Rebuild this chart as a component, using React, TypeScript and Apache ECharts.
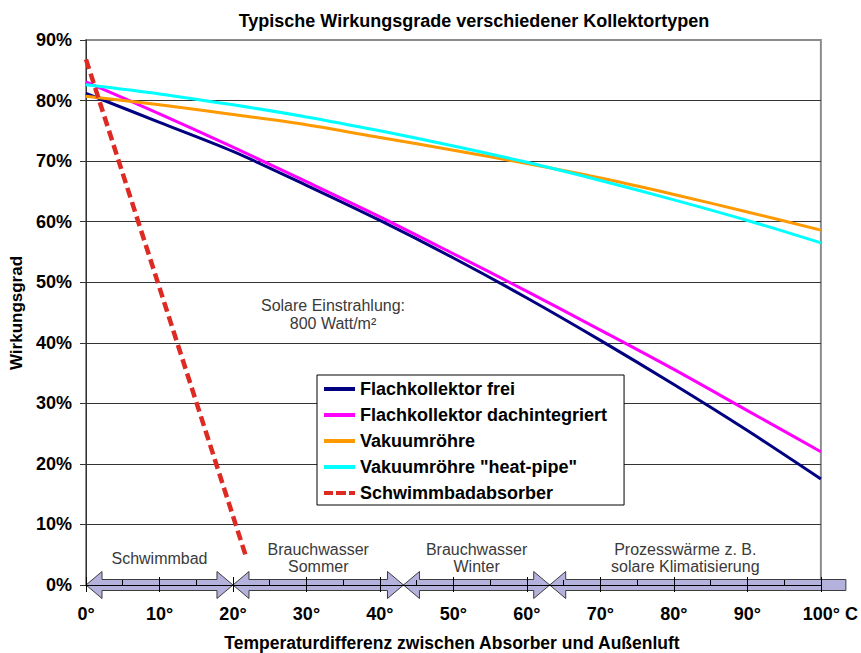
import React, { useEffect, useRef } from 'react';
import * as echarts from 'echarts';

const FONT = '"Liberation Sans", Arial, Helvetica, sans-serif';

// Temperature differences (°) at which the curves were read
const temperatures = [0, 10, 20, 30, 40, 50, 60, 70, 80, 90, 100];
// Efficiency values in %
const flachkollektorFrei = [81.2, 76.4, 71.6, 66.0, 60.2, 54.0, 47.4, 40.4, 33.1, 25.5, 17.5];
const flachkollektorDach = [83.1, 77.8, 72.3, 66.6, 60.8, 54.7, 48.5, 42.1, 35.6, 28.8, 22.0];
const vakuumroehre = [80.7, 79.3, 77.7, 76.0, 73.9, 71.8, 69.6, 67.2, 64.5, 61.6, 58.6];
const vakuumHeatPipe = [82.6, 81.1, 79.3, 77.3, 75.0, 72.5, 69.8, 66.8, 63.6, 60.2, 56.5];
const schwimmbadTemps = [0, 21.8];
const schwimmbadabsorber = [86.8, 4.6];

const seriesNames = [
  'Flachkollektor frei',
  'Flachkollektor dachintegriert',
  'Vakuumröhre',
  'Vakuumröhre "heat-pipe"',
  'Schwimmbadabsorber',
];
const seriesColors = ['#000080', '#ff00ff', '#ff9900', '#00ffff', '#dd2a22'];

// Application ranges (arrows along the x-axis)
const rangeStarts = [0, 20, 43.2, 63.1];
const rangeEnds = [20, 43.2, 63.1, 103.4];
const rangeLeftHead = [1, 1, 1, 1];
const rangeRightHead = [1, 1, 1, 0];
const rangeLabels = [
  'Schwimmbad',
  'Brauchwasser\nSommer',
  'Brauchwasser\nWinter',
  'Prozesswärme z. B.\nsolare Klimatisierung',
];

const xTicks = { min: 0, max: 100, interval: 10 };
const yTicks = { min: 0, max: 90, interval: 10 };

const SOLID_ICON = 'path://M0,0H31V4H0Z';
const DASH_ICON = 'path://M0,0H9V4H0Z M12,0H22V4H12Z M25,0H31V4H25Z';

export default function App() {
  const ref = useRef<HTMLDivElement>(null);

  useEffect(() => {
    const chart = echarts.init(ref.current as HTMLDivElement, null, { renderer: 'svg' });
    const pairs = (xs: number[], ys: number[]) => xs.map((x, i) => [x, ys[i]]);

    const lineSeries = (name: string, ys: number[], color: string) => ({
      name,
      type: 'line',
      data: pairs(temperatures, ys),
      showSymbol: false,
      symbol: 'none',
      smooth: 0.3,
      z: 3,
      lineStyle: { color, width: 3 },
      itemStyle: { color },
    });

    const rangeData = rangeStarts.map((s, i) => [s, rangeEnds[i], rangeLeftHead[i], rangeRightHead[i]]);

    chart.setOption({
      animation: false,
      backgroundColor: '#ffffff',
      textStyle: { fontFamily: FONT },
      grid: {
        left: 86,
        right: 37,
        top: 40,
        bottom: 68,
        show: true,
        borderColor: '#8c8c8c',
        borderWidth: 2,
        backgroundColor: 'transparent',
      },
      legend: {
        orient: 'vertical',
        left: 317,
        top: 375,
        data: seriesNames.map((name, i) => ({
          name,
          icon: i === 4 ? DASH_ICON : SOLID_ICON,
          itemStyle: { color: seriesColors[i] },
        })),
        selectedMode: false,
        backgroundColor: '#ffffff',
        borderColor: '#000000',
        borderWidth: 1,
        padding: [5, 17, 3, 7],
        itemGap: 8,
        itemWidth: 31,
        itemHeight: 4,
        z: 10,
        textStyle: { fontSize: 18, fontWeight: 'bold', color: '#000', fontFamily: FONT },
      },
      xAxis: [
        {
          type: 'value',
          ...xTicks,
          position: 'bottom',
          z: 5,
          axisLine: { show: true, onZero: false, lineStyle: { color: '#000', width: 1 } },
          axisTick: { show: true, length: 7, lineStyle: { color: '#000' } },
          axisLabel: {
            fontSize: 18,
            fontWeight: 'bold',
            color: '#000',
            fontFamily: FONT,
            margin: 20,
            formatter: (v: number) => (v === 100 ? '{p| }100° C' : v + '°'),
            rich: { p: { width: 19 } },
          },
          splitLine: { show: false },
        },
        {
          type: 'value',
          ...xTicks,
          position: 'top',
          offset: -545,
          z: 5,
          axisLine: { show: false, onZero: false },
          axisTick: { show: true, length: 8, lineStyle: { color: '#000' } },
          minorTick: { show: true, splitNumber: 2, length: 5, lineStyle: { color: '#000' } },
          axisLabel: { show: false },
          splitLine: { show: false },
        },
      ],
      yAxis: {
        type: 'value',
        ...yTicks,
        axisLine: { show: true, lineStyle: { color: '#333', width: 1 } },
        axisTick: { show: true, length: 6, lineStyle: { color: '#333' } },
        axisLabel: {
          formatter: '{value}%',
          fontSize: 18,
          fontWeight: 'bold',
          color: '#000',
          fontFamily: FONT,
          margin: 14,
        },
        splitLine: { show: true, showMaxLine: false, lineStyle: { color: '#333', width: 1 } },
      },
      graphic: [
        {
          type: 'text',
          x: 474,
          y: 21,
          style: {
            text: 'Typische Wirkungsgrade verschiedener Kollektortypen',
            font: `bold 18px ${FONT}`,
            fill: '#000',
            textAlign: 'center',
            textVerticalAlign: 'middle',
          },
        },
        {
          type: 'text',
          x: 16,
          y: 313,
          rotation: Math.PI / 2,
          style: {
            text: 'Wirkungsgrad',
            font: `bold 17px ${FONT}`,
            fill: '#000',
            textAlign: 'center',
            textVerticalAlign: 'middle',
          },
        },
        {
          type: 'text',
          x: 452,
          y: 643,
          style: {
            text: 'Temperaturdifferenz zwischen Absorber und Außenluft',
            font: `bold 17.5px ${FONT}`,
            fill: '#000',
            textAlign: 'center',
            textVerticalAlign: 'middle',
          },
        },
        {
          type: 'text',
          x: 333,
          y: 314,
          style: {
            text: 'Solare Einstrahlung:\n800 Watt/m²',
            font: `16px ${FONT}`,
            lineHeight: 18,
            fill: '#3a3a3a',
            textAlign: 'center',
            textVerticalAlign: 'middle',
          },
        },
      ],
      series: [
        {
          name: 'ranges',
          type: 'custom',
          silent: true,
          clip: false,
          z: 1,
          encode: { x: [0, 1], y: 2 },
          data: rangeData,
          renderItem: (params: any, api: any) => {
            const s = api.value(0);
            const e = api.value(1);
            const lh = api.value(2) > 0;
            const rh = api.value(3) > 0;
            const p0 = api.coord([s, 0]);
            const p1 = api.coord([e, 0]);
            const x0 = p0[0];
            const x1 = p1[0];
            const y = p0[1];
            const hs = 5.5;
            const hh = 13.5;
            const hl = 16;
            const pts: number[][] = [];
            if (lh) pts.push([x0, y], [x0 + hl, y - hh], [x0 + hl, y - hs]);
            else pts.push([x0, y - hs]);
            if (rh) pts.push([x1 - hl, y - hs], [x1 - hl, y - hh], [x1, y], [x1 - hl, y + hh], [x1 - hl, y + hs]);
            else pts.push([x1, y - hs], [x1, y + hs]);
            if (lh) pts.push([x0 + hl, y + hs], [x0 + hl, y + hh]);
            else pts.push([x0, y + hs]);
            const mid = api.coord([(s + Math.min(e, 100)) / 2, 0]);
            return {
              type: 'group',
              children: [
                {
                  type: 'polygon',
                  shape: { points: pts },
                  style: { fill: '#b4b1dc', stroke: '#3c3c3c', lineWidth: 1 },
                },
                {
                  type: 'text',
                  x: mid[0],
                  y: mid[1] - 27,
                  style: {
                    text: rangeLabels[params.dataIndex],
                    font: `16px ${FONT}`,
                    lineHeight: 17.5,
                    fill: '#3a3a3a',
                    textAlign: 'center',
                    textVerticalAlign: 'middle',
                  },
                },
              ],
            };
          },
        },
        lineSeries(seriesNames[0], flachkollektorFrei, seriesColors[0]),
        lineSeries(seriesNames[1], flachkollektorDach, seriesColors[1]),
        lineSeries(seriesNames[2], vakuumroehre, seriesColors[2]),
        lineSeries(seriesNames[3], vakuumHeatPipe, seriesColors[3]),
        {
          name: seriesNames[4],
          type: 'line',
          data: pairs(schwimmbadTemps, schwimmbadabsorber),
          showSymbol: false,
          symbol: 'none',
          z: 4,
          lineStyle: { color: seriesColors[4], width: 4.5, type: [10, 5] },
          itemStyle: { color: seriesColors[4] },
        },
      ],
    });

    return () => chart.dispose();
  }, []);

  return (
    <div
      ref={ref}
      style={{ position: 'fixed', left: 0, top: 0, width: 861, height: 653, background: '#fff' }}
    />
  );
}
